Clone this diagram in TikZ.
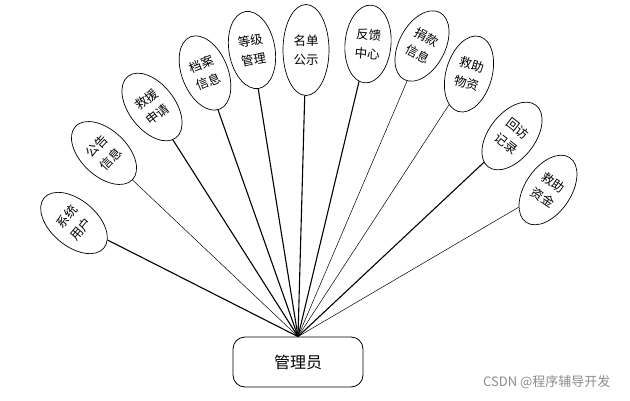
\documentclass[tikz,border=0pt]{standalone}
\usepackage{fontspec}
\newfontfamily\cjk{Noto Sans CJK SC}
\usepackage{tikz}
\usetikzlibrary{shapes.geometric, positioning}

\begin{document}
\begin{tikzpicture}[
    x=1pt, y=1pt,
    entity/.style={ellipse, draw, line width=0.7pt, minimum width=46pt, minimum height=78pt,
        inner sep=0pt, align=center, font=\cjk\fontsize{12.5}{19}\selectfont},
    role/.style={rectangle, rounded corners=12pt, draw, line width=0.8pt,
        minimum width=130pt, minimum height=50pt, font=\cjk\fontsize{16}{18}\selectfont},
    link/.style={line width=1.1pt},
    thin link/.style={line width=0.5pt},
]
\useasboundingbox (0,0) rectangle (630,400);
\node[role] (admin) at (298,38) {管理员};
\coordinate (hub) at (admin.north);
\foreach \i/\x/\y/\ang/\h/\txt in {1/74/177/50/78/系统\\用户, 2/104/247/47/78/公告\\信息,
    3/152/293/38/78/救援\\申请, 4/205/327/22/78/档案\\信息, 5/252/350/10/78/等级\\管理,
    6/306/350/0/91/名单\\公示, 7/368/356/-5/78/反馈\\中心, 8/422/354/-28/76/捐款\\信息,
    9/469/326/-16/78/救助\\物资, 10/512/264/-38/78/回访\\记录, 11/548/210/-34/78/救助\\资金} {
    \node[entity, rotate=\ang, minimum height=\h pt] (ent\i) at (\x,\y) {\txt};
}
\foreach \i in {1,3,4,5,6,7,10} {
    \draw[link] (hub) -- (ent\i);
}
\foreach \i in {2,8,9,11} {
    \draw[thin link] (hub) -- (ent\i);
}
\node[text=black!45, font=\cjk\fontsize{13}{15}\selectfont, anchor=east] (mark) at (614,18) {CSDN @程序辅导开发};
\end{tikzpicture}
\end{document}
